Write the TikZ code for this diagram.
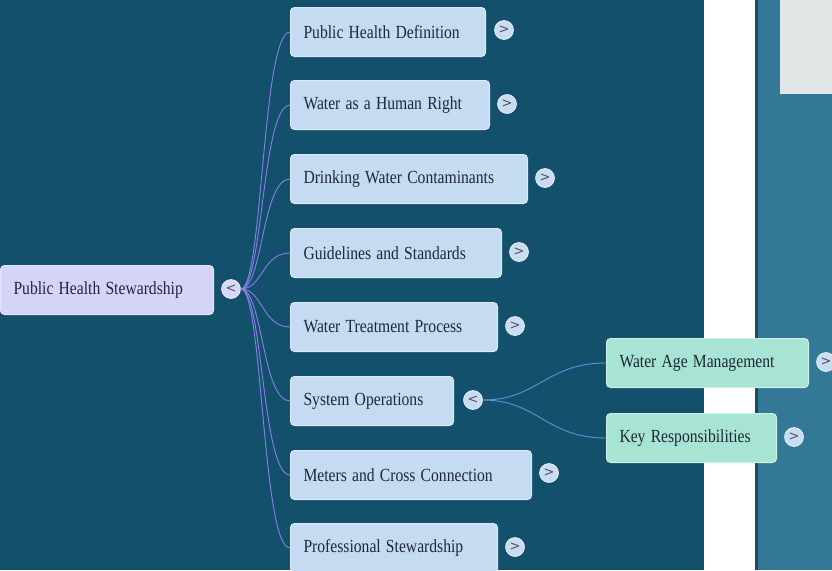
\documentclass[tikz,border=0pt]{standalone}
\usepackage{fontspec}
\usepackage{graphicx}
\setmainfont{Liberation Serif}
\newfontfamily\knobfont{DejaVu Sans}
\newcommand\sqz[1]{\scalebox{0.845}[1]{#1}}
\definecolor{bgdark}{HTML}{12506B}
\definecolor{bglight}{HTML}{337896}
\definecolor{panelgray}{HTML}{E2E5E6}
\definecolor{sepline}{HTML}{1A4A60}
\definecolor{boxfill}{HTML}{C4DBF1}
\definecolor{boxline}{HTML}{DDE9F6}
\definecolor{rootfill}{HTML}{D4D4F7}
\definecolor{rootline}{HTML}{E3E3FB}
\definecolor{subfill}{HTML}{A8E4D3}
\definecolor{subline}{HTML}{CBF1E5}
\definecolor{txt}{HTML}{1E2838}
\definecolor{edgeroot}{HTML}{8C7EEC}
\definecolor{edgesub}{HTML}{5E92DA}
\definecolor{knobfill}{HTML}{C9DCF1}
\definecolor{knobroot}{HTML}{DAD8F8}
\tikzset{
  topic/.style={draw=boxline, line width=1pt, fill=boxfill, rounded corners=4pt,
    anchor=north west, minimum height=49pt, inner xsep=13pt, inner ysep=0pt,
    align=left, text=txt, font=\fontsize{18.5}{20}\selectfont},
  roottopic/.style={topic, fill=rootfill, draw=rootline},
  subtopic/.style={topic, fill=subfill, draw=subline},
  knob/.style={circle, fill=knobfill, draw=white!85!knobfill, line width=0.6pt,
    minimum size=19pt, inner sep=0pt, text=txt!80, font=\knobfont\fontsize{13}{13}\selectfont},
  rootknob/.style={knob, fill=knobroot},
  rootedge/.style={draw=edgeroot, line width=0.9pt},
  subedge/.style={draw=edgesub, line width=0.9pt},
}
\begin{document}
\begin{tikzpicture}[x=1pt,y=-1pt]
\useasboundingbox (0,0) rectangle (832,570);
% background
\fill[bgdark] (0,0) rectangle (704,570);
\fill[white] (704,0) rectangle (755,570);
\fill[sepline] (755,0) rectangle (757.5,570);
\fill[bglight] (757.5,0) rectangle (832,570);
\fill[panelgray] (780,0) rectangle (832,94);

% root
\node[roottopic, minimum width=213pt, text width=187pt] (root) at (0,265) {\sqz{Public Health Stewardship}};
\node[rootknob] (c0) at (231,289) {<};

% children
\node[topic, minimum width=195pt, text width=169pt] (n1) at (290,7) {\sqz{Public Health Definition}};
\node[topic, minimum width=199pt, text width=173pt] (n2) at (290,80) {\sqz{Water as a Human Right}};
\node[topic, minimum width=237pt, text width=211pt] (n3) at (290,154) {\sqz{Drinking Water Contaminants}};
\node[topic, minimum width=211pt, text width=185pt] (n4) at (290,228) {\sqz{Guidelines and Standards}};
\node[topic, minimum width=207pt, text width=181pt] (n5) at (290,302) {\sqz{Water Treatment Process}};
\node[topic, minimum width=163pt, text width=137pt] (n6) at (290,376) {\sqz{System Operations}};
\node[topic, minimum width=241pt, text width=215pt] (n7) at (290,450) {\sqz{Meters and Cross Connection}};
\node[topic, minimum width=207pt, text width=181pt] (n8) at (290,523) {\sqz{Professional Stewardship}};

\node[knob] (c1) at (504,30) {>};
\node[knob] (c2) at (507,104) {>};
\node[knob] (c3) at (545,178) {>};
\node[knob] (c4) at (519,252) {>};
\node[knob] (c5) at (515,326) {>};
\node[knob] (c6) at (473,400) {<};
\node[knob] (c7) at (549,473) {>};
\node[knob] (c8) at (515,547) {>};

% sub-children
\node[subtopic, minimum width=202pt, text width=176pt] (s1) at (606,338) {\sqz{Water Age Management}};
\node[subtopic, minimum width=170pt, text width=144pt] (s2) at (606,413) {\sqz{Key Responsibilities}};
\node[knob] (cs1) at (826,362) {>};
\node[knob] (cs2) at (794,437) {>};

% edges from root
\foreach \n in {n1,n2,n3,n4,n5,n6,n7,n8}{
  \draw[rootedge] (c0.east) .. controls ([xshift=22pt]c0.east) and ([xshift=-28pt]\n.west) .. (\n.west);
}
% edges from System Operations
\foreach \n in {s1,s2}{
  \draw[subedge] (c6.east) .. controls ([xshift=55pt]c6.east) and ([xshift=-60pt]\n.west) .. (\n.west);
}
\end{tikzpicture}
\end{document}
